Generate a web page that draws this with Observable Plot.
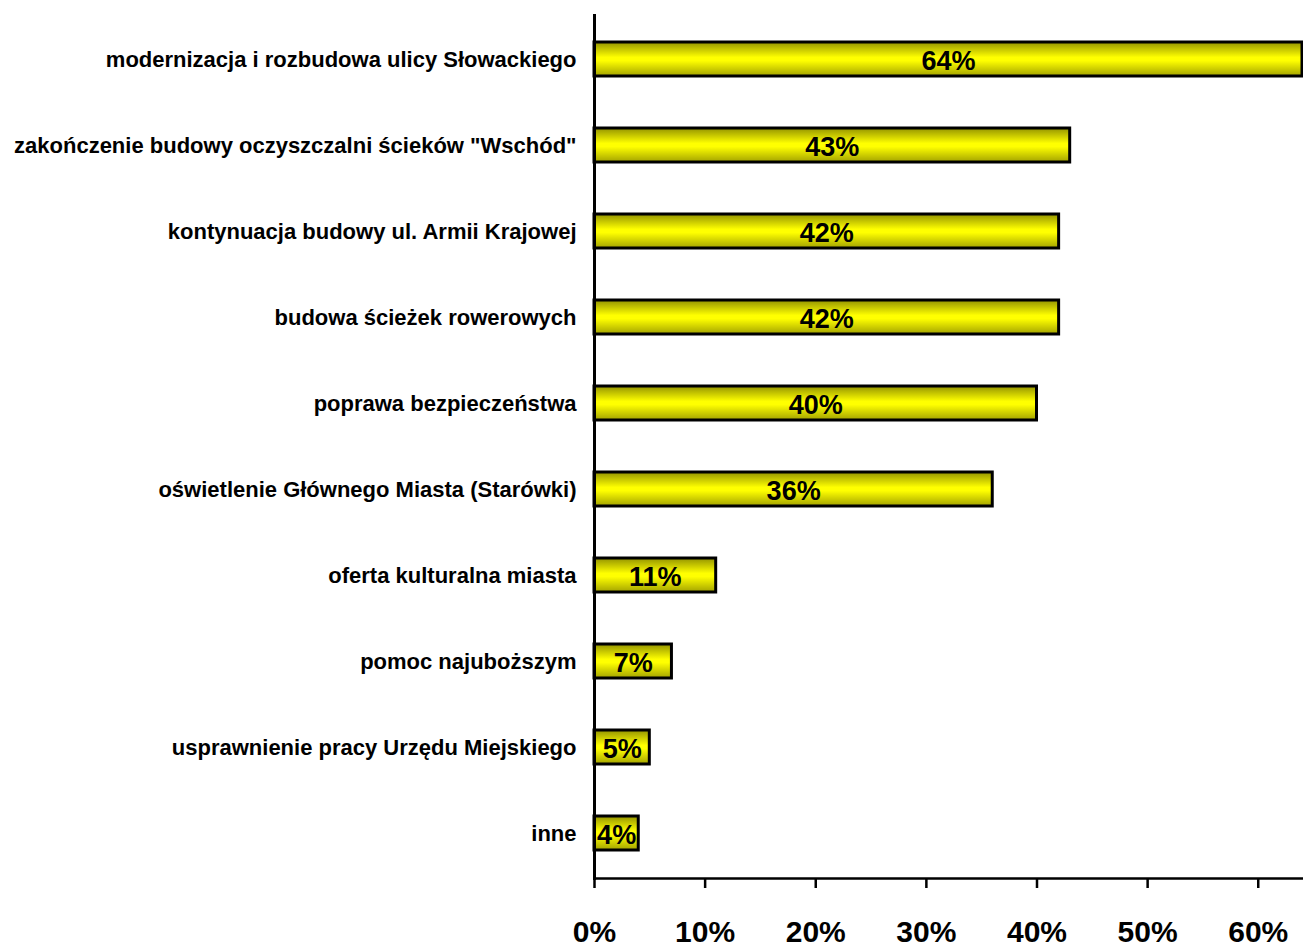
<!DOCTYPE html>
<html><head><meta charset="utf-8">
<script src="https://cdn.jsdelivr.net/npm/d3@7"></script>
<script src="https://cdn.jsdelivr.net/npm/@observablehq/plot@0.6"></script>
<style>body{margin:0;background:#fff}</style>
</head><body><div id="chart"></div>
<script>
const categories = [
  "modernizacja i rozbudowa ulicy Słowackiego",
  "zakończenie budowy oczyszczalni ścieków \"Wschód\"",
  "kontynuacja budowy ul. Armii Krajowej",
  "budowa ścieżek rowerowych",
  "poprawa bezpieczeństwa",
  "oświetlenie Głównego Miasta (Starówki)",
  "oferta kulturalna miasta",
  "pomoc najuboższym",
  "usprawnienie pracy Urzędu Miejskiego",
  "inne"
];
const values = [64, 43, 42, 42, 40, 36, 11, 7, 5, 4];
const tickValues = [0, 10, 20, 30, 40, 50, 60];

const data = categories.map((c, i) => ({category: c, value: values[i]}));

const gradientDefs = () => {
  const g = d3.create("svg:g");
  const lg = g.append("defs").append("linearGradient")
    .attr("id", "barGrad").attr("x1", 0).attr("x2", 0).attr("y1", 0).attr("y2", 1);
  lg.append("stop").attr("offset", "0%").attr("stop-color", "#939300");
  lg.append("stop").attr("offset", "45%").attr("stop-color", "#ffff00");
  lg.append("stop").attr("offset", "55%").attr("stop-color", "#ffff00");
  lg.append("stop").attr("offset", "100%").attr("stop-color", "#a3a300");
  return g.node();
};

const chart = Plot.plot({
  width: 1303,
  height: 947,
  marginLeft: 594,
  marginRight: 1,
  marginTop: 15,
  marginBottom: 69,
  style: {fontFamily: "'Liberation Sans', Arial, sans-serif", background: "#fff", color: "#000"},
  x: {domain: [0, 64]},
  y: {domain: categories, paddingInner: 0.6, paddingOuter: 0.31},
  marks: [
    gradientDefs,
    Plot.barX(data, {x: "value", y: "category", fill: "url(#barGrad)", stroke: "#000", strokeWidth: 3}),
    Plot.text(data, {x: d => d.value / 2, y: "category", text: d => d.value + "%", fontSize: 27, fontWeight: "bold", fill: "#000", dy: 2}),
    Plot.axisY({tickSize: 0, tickPadding: 18, fontSize: 22, fontWeight: "bold", label: null}),
    Plot.axisX({ticks: tickValues, tickFormat: d => d + "%", tickSize: 10, tickPadding: 32, fontSize: 30, fontWeight: "bold", label: null, strokeWidth: 2.5}),
    Plot.frame({anchor: "left", strokeWidth: 3}),
    Plot.frame({anchor: "bottom", strokeWidth: 2.5})
  ]
});
document.getElementById("chart").append(chart);
</script>
</body></html>
